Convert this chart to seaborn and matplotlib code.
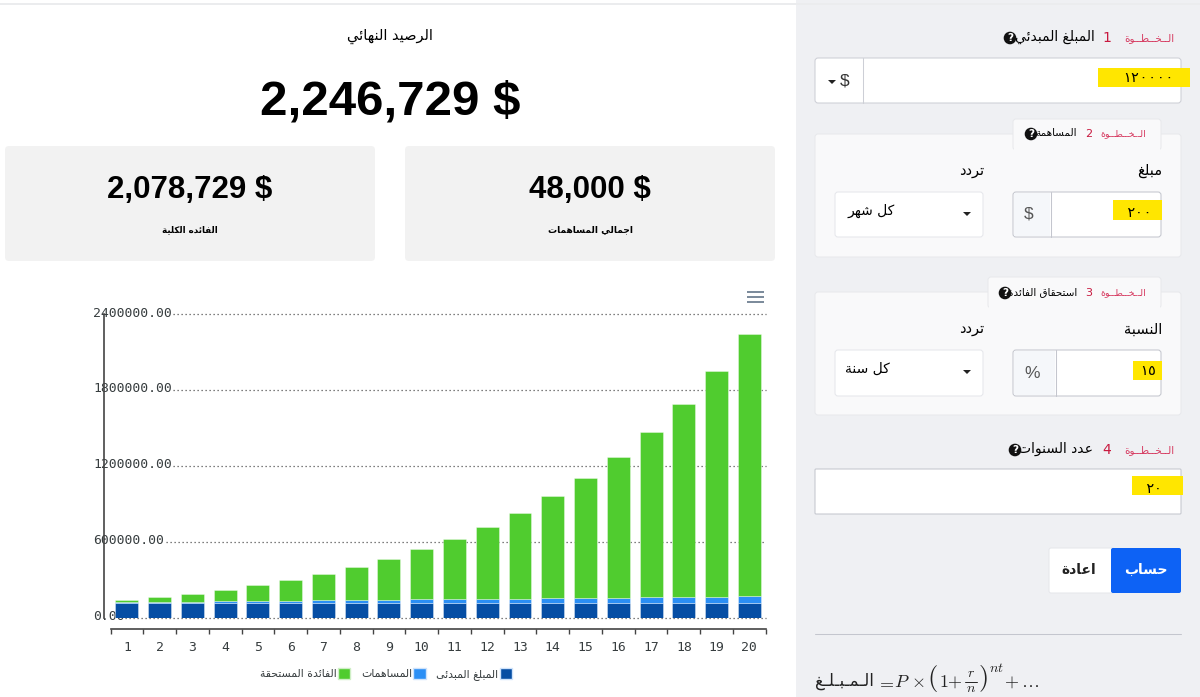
import unicodedata

import matplotlib

matplotlib.use("Agg")
import matplotlib.pyplot as plt
import pandas as pd
import seaborn as sns
from matplotlib.patches import FancyBboxPatch, Patch, Polygon, Rectangle, Circle
from matplotlib.transforms import ScaledTranslation

years = list(range(1, 21))
initial_amount = [120000] * 20
contributions = [2400, 4800, 7200, 9600, 12000, 14400, 16800, 19200, 21600, 24000,
                 26400, 28800, 31200, 33600, 36000, 38400, 40800, 43200, 45600, 48000]
interest = [15000, 36000, 63000, 91000, 126000, 166000, 211000, 264000, 325000, 396000,
            476000, 571000, 679000, 806000, 949000, 1115000, 1305000, 1527000, 1783000, 2078729]
y_ticks = [0, 600000, 1200000, 1800000, 2400000]
series_names = ["المبلغ المبدئى", "المساهمات", "الفائدة المستحقة"]

DARK_BLUE = "#064EA4"
LIGHT_BLUE = "#2B8FF5"
GREEN = "#50CC2F"
AXIS_TEXT = "#373D3F"
CRIMSON = "#D6395F"
YELLOW = "#FFE600"
MONO = ["DejaVu Sans Mono", "DejaVu Sans"]

W, H = 1200, 697

# matplotlib has no Arabic shaping, so pick presentation forms and flip to visual order
FORMS = {}
for code in range(0xFE70, 0xFEFD):
    parts = unicodedata.decomposition(chr(code)).split()
    if len(parts) == 2 and parts[0] in ("<isolated>", "<final>", "<initial>", "<medial>"):
        FORMS.setdefault(chr(int(parts[1], 16)), {})[parts[0].strip("<>")] = chr(code)
RIGHT_ONLY = set("اأإآدذرزوؤةى")


def ar(text):
    out = []
    for i, ch in enumerate(text):
        if ch not in FORMS or ch == "ـ":
            out.append(ch)
            continue
        prev = text[i - 1] if i else " "
        nxt = text[i + 1] if i + 1 < len(text) else " "
        joins_prev = (prev in FORMS or prev == "ـ") and prev not in RIGHT_ONLY
        joins_next = (nxt in FORMS or nxt == "ـ") and ch not in RIGHT_ONLY
        if joins_prev and joins_next:
            form = "medial"
        elif joins_prev:
            form = "final"
        elif joins_next:
            form = "initial"
        else:
            form = "isolated"
        out.append(FORMS[ch].get(form, ch))
    return "".join(reversed(out))


sns.set_theme(style="white")
plt.rcParams["font.family"] = ["DejaVu Sans"]
plt.rcParams["mathtext.fontset"] = "cm"

fig = plt.figure(figsize=(W / 100, H / 100), dpi=100)
ui = fig.add_axes([0, 0, 1, 1])
ui.set_xlim(0, W)
ui.set_ylim(H, 0)
ui.axis("off")


def box(x0, y0, x1, y1, fc, ec="none", r=3, lw=0.75, z=1):
    ui.add_patch(FancyBboxPatch((x0, y0), x1 - x0, y1 - y0, boxstyle=f"round,pad=0,rounding_size={r}",
                                fc=fc, ec=ec, lw=lw, zorder=z))


def rect(x0, y0, x1, y1, fc, z=2):
    ui.add_patch(Rectangle((x0, y0), x1 - x0, y1 - y0, fc=fc, ec="none", zorder=z))


def label(x, y, s, size=9, color="black", ha="center", weight="normal", family="DejaVu Sans", z=5):
    ui.text(x, y, s, fontsize=size, color=color, ha=ha, va="center", fontweight=weight, family=family, zorder=z)


def caret(x, y):
    ui.add_patch(Polygon([(x - 4, y - 2), (x + 4, y - 2), (x, y + 2)], fc="#222222", ec="none", zorder=5))


def help_icon(x, y):
    ui.add_patch(Circle((x, y), 6.3, fc="#111111", ec="none", zorder=6))
    label(x, y, "?", size=7.5, color="white", weight="bold", z=7)


def step(right, y, word, num_x, title_right, title, title_size, icon_x, word_size=7.5):
    label(right, y, ar(word), size=word_size, color=CRIMSON, ha="right")
    ui.text(num_x, y, title[0], fontsize=title[1], color="#C8193F", ha="center", va="center", zorder=5)
    label(title_right, y - 1, ar(title[2]), size=title_size, ha="right")
    help_icon(icon_x, y)


def math(x, y, s, size=13):
    ui.text(x, y, s, fontsize=size, ha="left", va="center", color="#222222", zorder=5)


STEP_WORD = "الــخــطــوة"

# page background
rect(0, 0, 796, H, "white", z=0)
rect(796, 0, W, H, "#EFF0F3", z=0)
rect(0, 3, W, 4.5, "#EBECEE", z=1)

# result header
label(390, 36, ar("الرصيد النهائي"), size=10.5)
label(390, 102, "2,246,729 $", size=35.5, weight="bold", family="Liberation Sans")

box(5, 146, 375, 261, "#F2F2F2", r=4)
box(405, 146, 775, 261, "#F2F2F2", r=4)
label(190, 190, "2,078,729 $", size=22.5, weight="bold", family="Liberation Sans")
label(590, 190, "48,000 $", size=22.5, weight="bold", family="Liberation Sans")
label(190, 230, ar("الفائده الكلية"), size=6.3, weight="bold")
label(590, 230, ar("اجمالي المساهمات"), size=6.6, weight="bold")

# chart menu icon
for yy in (292, 297, 302):
    rect(747, yy - 0.6, 763.5, yy + 0.6, "#7D8C9C")

# step 1
step(1174, 38, STEP_WORD, 1107, 1095, ("1", 10, "المبلغ المبدئي"), 10, 1010)
box(815, 58, 1181, 103, "white", "#CDCFD6")
ui.plot([862.5, 862.5], [58, 103], color="#CDCFD6", lw=0.75, zorder=3)
label(845, 81, "$", size=12.5, color="#333333", family="Liberation Sans")
caret(832, 82)
rect(1098, 68, 1190, 87, YELLOW, z=4)
label(1174, 78, "١٢٠٠٠٠", size=10.4, ha="right", family=MONO)

# step 2
box(815, 134, 1181, 257, "#F9F9FA", "#E8E9EC")
box(1013, 119, 1161, 150, "#F9F9FA", "#E8E9EC", z=2)
rect(1014, 140, 1160, 152, "#F9F9FA", z=2)
step(1146, 134, STEP_WORD, 1089, 1077, ("2", 8, "المساهمة"), 7.5, 1031, word_size=6.8)
label(1162, 171, ar("مبلغ"), size=10.5, ha="right")
label(984, 171, ar("تردد"), size=10.5, ha="right")
box(835, 192, 983, 237, "white", "#E6E7EB")
label(895, 211, ar("كل شهر"), size=10, ha="right")
caret(967, 214)
box(1013, 192, 1161, 237, "white", "#C4C6CE")
rect(1014, 193, 1050, 236, "#F5F7FA")
ui.plot([1050.5, 1050.5], [192, 237], color="#C4C6CE", lw=0.75, zorder=3)
label(1029, 214, "$", size=12.5, color="#555555", family="Liberation Sans")
rect(1113, 200, 1162, 220, YELLOW, z=4)
label(1153, 213, "٢٠٠", size=10.4, ha="right", family=MONO)

# step 3
box(815, 292, 1181, 415, "#F9F9FA", "#E8E9EC")
box(988, 277, 1161, 308, "#F9F9FA", "#E8E9EC", z=2)
rect(989, 298, 1160, 310, "#F9F9FA", z=2)
step(1146, 293, STEP_WORD, 1089, 1077, ("3", 8, "استحقاق الفائدة"), 7.5, 1005, word_size=6.8)
label(1162, 329, ar("النسبة"), size=10.5, ha="right")
label(984, 329, ar("تردد"), size=10.5, ha="right")
box(835, 350, 983, 396, "white", "#E6E7EB")
label(890, 369, ar("كل سنة"), size=10, ha="right")
caret(967, 372)
box(1013, 350, 1161, 396, "white", "#C4C6CE")
rect(1014, 351, 1055, 395, "#F5F7FA")
ui.plot([1055.5, 1055.5], [350, 396], color="#C4C6CE", lw=0.75, zorder=3)
label(1032, 373, "%", size=12.5, color="#555555", family="Liberation Sans")
rect(1133, 361, 1162, 380, YELLOW, z=4)
label(1156, 371, "١٥", size=10.4, ha="right", family=MONO)

# step 4
step(1174, 450, STEP_WORD, 1107, 1093, ("4", 10, "عدد السنوات"), 10, 1015)
box(815, 469, 1181, 514, "white", "#C4C6CE", r=1)
rect(1132, 476, 1183, 495, YELLOW, z=4)
label(1163, 489, "٢٠", size=10.4, ha="right", family=MONO)

# buttons
box(1049, 548, 1115, 593, "white", "#E6E7EB", r=2)
box(1111, 548, 1181, 593, "#0D62F5", r=2, z=2)
label(1079, 570, ar("اعادة"), size=10, weight="bold", color="#222222")
label(1146, 570, ar("حساب"), size=10, weight="bold", color="white")
ui.plot([815, 1181], [633.5, 633.5], color="#C4C6CE", lw=0.75, zorder=2)

# formula sits right at the bottom edge like the screenshot
label(815, 681, ar("الـمـبـلـغ"), size=12, ha="left", color="#222222")
math(876, 682, r"$=$")
math(894, 682, r"$P$")
math(911, 682, r"$\times$")
math(927, 679, r"$($", size=19)
math(939, 682, r"$1$")
math(947, 682, r"$+$")
math(967, 673, r"$r$", size=10)
ui.plot([965, 977], [681.5, 681.5], color="#222222", lw=0.7, zorder=5)
math(966, 688, r"$n$", size=10)
math(978, 679, r"$)$", size=19)
math(989, 668, r"$nt$", size=10)
math(1004, 682, r"$+$")
math(1021, 682, r"$\ldots$")

# the chart itself
chart_left, chart_right = 110.5, 765.7
chart_top, chart_zero = 314.3, 617.7
ax = fig.add_axes([chart_left / W, 1 - chart_zero / H, (chart_right - chart_left) / W, (chart_zero - chart_top) / H])
ax.patch.set_alpha(0)

frame = pd.DataFrame({"year": years, "initial": initial_amount, "contrib": contributions, "interest": interest})
frame["base2"] = frame["initial"]
frame["base3"] = frame["initial"] + frame["contrib"]
bar_kw = dict(x="year", width=0.7, saturation=1, edgecolor="#FFFFFF80", linewidth=0.5, ax=ax, zorder=2)
sns.barplot(data=frame, y="initial", color=DARK_BLUE, **bar_kw)
sns.barplot(data=frame, y="contrib", bottom=frame["base2"], color=LIGHT_BLUE, **bar_kw)
sns.barplot(data=frame, y="interest", bottom=frame["base3"], color=GREEN, **bar_kw)

ax.set_xlim(-0.5, 19.5)
ax.set_ylim(0, 2400000)
ax.set_xlabel("")
ax.set_ylabel("")

# spine moves reset the ticks, so they go before any tick styling
sns.despine(ax=ax, top=True, right=True)
ax.spines["left"].set_position(("outward", 5))
ax.spines["left"].set_color("#444444")
ax.spines["left"].set_linewidth(1.2)
ax.spines["bottom"].set_position(("outward", 8))
ax.spines["bottom"].set_color("#444444")
ax.spines["bottom"].set_linewidth(1.2)

grid_starts = [125, 166, 173, 173, 173]
for tick, start in zip(y_ticks, grid_starts):
    ax.plot([(start - chart_left) / (chart_right - chart_left), 1], [tick, tick], transform=ax.get_yaxis_transform(),
            color="#555555", lw=0.9, ls=(0, (1, 2.2)), clip_on=False, zorder=1)

ax.set_yticks(y_ticks)
ax.set_yticklabels([f"{t:.2f}" for t in y_ticks])
ax.tick_params(axis="y", length=0, pad=7.56)
shift = ScaledTranslation(0, 2.7 / 100, fig.dpi_scale_trans)
for lab in ax.get_yticklabels():
    lab.set_ha("left")
    lab.set_fontfamily("DejaVu Sans Mono")
    lab.set_fontsize(9.45)
    lab.set_color(AXIS_TEXT)
    lab.set_transform(lab.get_transform() + shift)

# category borders get the ticks, labels stay centred
ax.set_xticks(range(20))
ax.set_xticklabels(years)
ax.set_xticks([i - 0.5 for i in range(21)], minor=True)
ax.tick_params(axis="x", which="minor", length=3.5, width=1, color="#444444", bottom=True)
ax.tick_params(axis="x", which="major", length=0, pad=9)
for lab in ax.get_xticklabels():
    lab.set_fontfamily("DejaVu Sans Mono")
    lab.set_fontsize(9.45)
    lab.set_color(AXIS_TEXT)

handles = [Patch(fc=GREEN, ec="#CFEFC6"), Patch(fc=LIGHT_BLUE, ec="#CFE3FB"), Patch(fc=DARK_BLUE, ec="#CFE3FB")]
names = [ar(n) for n in reversed(series_names)]
ax.legend(handles, names, ncol=3, loc="center", bbox_to_anchor=((386 - chart_left) / (chart_right - chart_left), -0.187),
          frameon=False, markerfirst=False, fontsize=7.8, handlelength=1.15, handleheight=1.15, handletextpad=0.1,
          columnspacing=1.0, labelcolor=AXIS_TEXT)

fig.savefig("out.png", dpi=100)
